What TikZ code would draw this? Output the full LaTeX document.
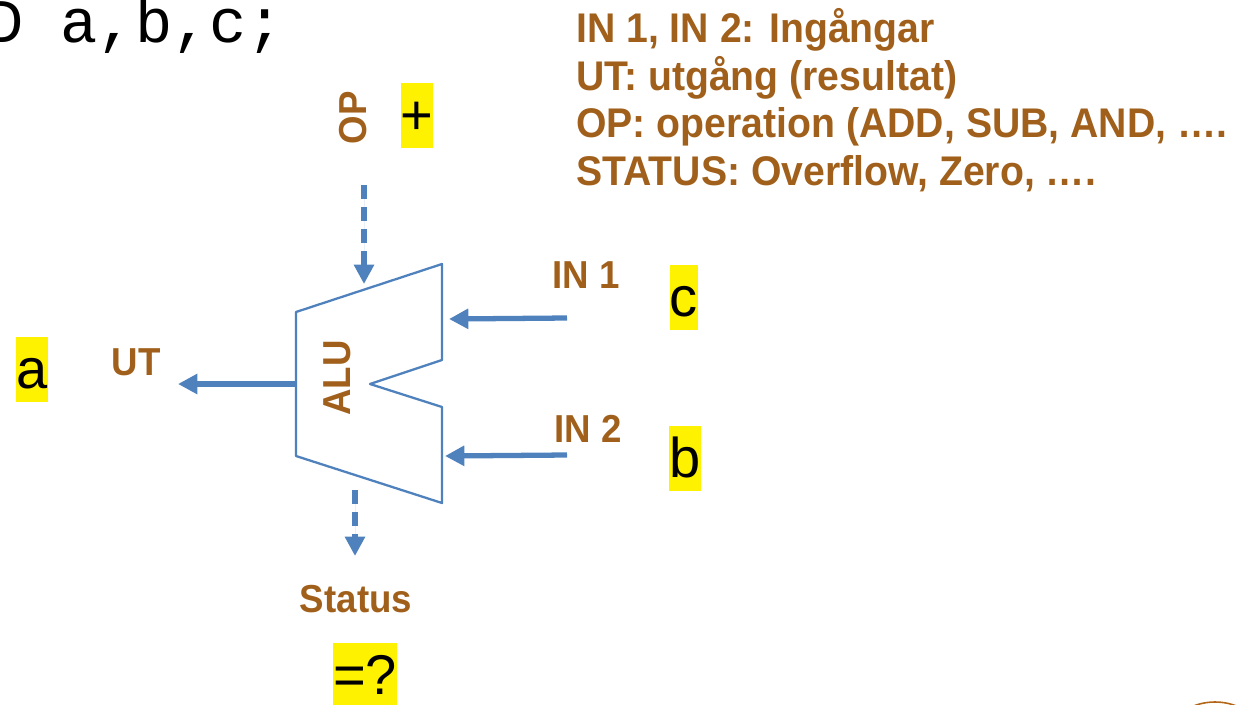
\documentclass[tikz,border=0pt]{standalone}
\usepackage{fontspec}
\setmainfont{Liberation Sans}
\newfontfamily\lblfont[FakeStretch=0.94]{Liberation Sans}
\newfontfamily\legfont[FakeStretch=0.945]{Liberation Sans}
\newfontfamily\codefont{Liberation Mono}
\usetikzlibrary{arrows.meta,positioning}
\definecolor{brn}{RGB}{160,96,28}
\definecolor{alublue}{RGB}{79,129,189}

\begin{document}
\begin{tikzpicture}[x=0.02cm,y=-0.02cm,
  lbl/.style={font=\lblfont\bfseries\fontsize{22.2}{26}\selectfont,text=brn,inner sep=0,anchor=base},
  hl/.style={fill=yellow,inner sep=0,text height=29pt,text depth=8pt,anchor=base,
    font=\fontsize{31.9}{36}\selectfont},
  arr/.style={-{Triangle[length=11pt,width=11pt]},draw=alublue,fill=alublue,line width=3pt},
  dsh/.style={arr,dash pattern=on 8pt off 4.5pt}]
\clip (0,0) rectangle (1241,704);
% code line, cut off at the left
\node[font=\codefont\fontsize{35.3}{40}\selectfont,inner sep=0,anchor=base west] (code) at (-14,42) {D a,b,c;};
% legend
\foreach \i/\y/\t in {1/42/{IN 1, IN 2: Ingångar},2/90/{UT: utgång (resultat)},
    3/137/{OP: operation (ADD, SUB, AND, ….},4/185/{STATUS: Overflow, Zero, ….}}
  \node[lbl,anchor=base west,font=\legfont\bfseries\fontsize{23.6}{27}\selectfont] (leg\i) at (576,\y) {\t};
% ALU body
\coordinate (tl) at (296,312); \coordinate (tr) at (442,264);
\coordinate (mr1) at (442,360); \coordinate (notch) at (370,384);
\coordinate (mr2) at (442,407); \coordinate (br) at (442,503);
\coordinate (bl) at (296,456);
\draw[alublue,line width=1.3pt,line join=round] (tl)--(tr)--(mr1)--(notch)--(mr2)--(br)--(bl)--cycle;
\node[lbl,anchor=center,rotate=90] (alu) at (337,378) {ALU};
% signals
\node[lbl,anchor=center,rotate=90] (op) at (353,118) {OP};
\node[hl] (opval) at (417,134) {+};
\coordinate (opin) at (364,185); \coordinate (optip) at (364,284);
\draw[dsh] (opin)--(optip);
\coordinate (utout) at (296,384); \coordinate (uttip) at (178,384);
\draw[arr] (utout)--(uttip);
\node[lbl] (ut) at (136,375) {UT};
\node[hl] (aval) at (32,388) {a};
\coordinate (in1) at (567,318); \coordinate (in1tip) at (449,319);
\draw[arr] (in1)--(in1tip);
\node[lbl] (inA) at (586,288) {IN 1};
\node[hl] (cval) at (684,316) {c};
\coordinate (in2) at (567,455); \coordinate (in2tip) at (445,456);
\draw[arr] (in2)--(in2tip);
\node[lbl] (inB) at (588,442) {IN 2};
\node[hl] (bval) at (685,477) {b};
\coordinate (stout) at (355,490); \coordinate (sttip) at (355,556);
\draw[dsh] (stout)--(sttip);
\node[lbl] (status) at (356,612) {Status};
\node[hl] (stval) at (365,694) {=?};
% edge of a circle in the corner
\draw[brn!80!orange,line width=0.9pt] (1215,762) circle[radius=60];
\end{tikzpicture}
\end{document}
